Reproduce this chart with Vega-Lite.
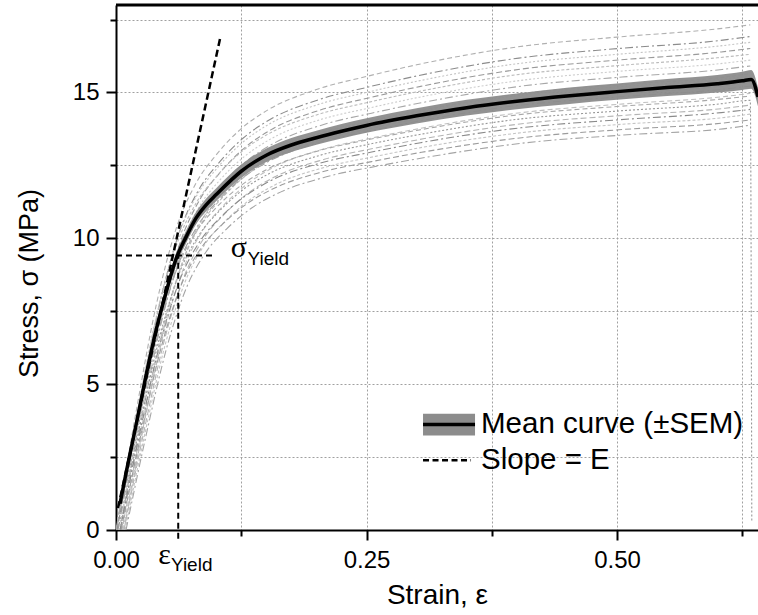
{
  "$schema": "https://vega.github.io/schema/vega-lite/v6.json",
  "width": 642,
  "height": 525,
  "autosize": {"type": "none"},
  "padding": {"left": 116, "top": 5, "right": 0, "bottom": 85},
  "background": "white",
  "config": {
    "view": {"stroke": null},
    "font": "Liberation Sans",
    "text": {"font": "Liberation Sans"}
  },
  "datasets": {
    "curves": [
      {"c":"c1","x":0,"y":0},{"c":"c1","x":0.02,"y":4.04},{"c":"c1","x":0.04,"y":7.69},{"c":"c1","x":0.06,"y":10.33},{"c":"c1","x":0.08,"y":11.9},{"c":"c1","x":0.1,"y":12.86},{"c":"c1","x":0.125,"y":13.76},{"c":"c1","x":0.15,"y":14.37},{"c":"c1","x":0.2,"y":15.1},{"c":"c1","x":0.25,"y":15.55},{"c":"c1","x":0.3,"y":15.95},{"c":"c1","x":0.4,"y":16.56},{"c":"c1","x":0.5,"y":16.9},{"c":"c1","x":0.6,"y":17.18},{"c":"c1","x":0.633,"y":17.32},
      {"c":"c2","x":0.002,"y":0},{"c":"c2","x":0.022,"y":3.95},{"c":"c2","x":0.042,"y":7.51},{"c":"c2","x":0.062,"y":10.09},{"c":"c2","x":0.082,"y":11.63},{"c":"c2","x":0.102,"y":12.56},{"c":"c2","x":0.127,"y":13.44},{"c":"c2","x":0.152,"y":14.04},{"c":"c2","x":0.202,"y":14.75},{"c":"c2","x":0.252,"y":15.19},{"c":"c2","x":0.302,"y":15.58},{"c":"c2","x":0.402,"y":16.18},{"c":"c2","x":0.502,"y":16.51},{"c":"c2","x":0.602,"y":16.78},{"c":"c2","x":0.633,"y":16.92},
      {"c":"c3","x":0.001,"y":0},{"c":"c3","x":0.021,"y":3.9},{"c":"c3","x":0.041,"y":7.43},{"c":"c3","x":0.061,"y":9.97},{"c":"c3","x":0.081,"y":11.49},{"c":"c3","x":0.101,"y":12.41},{"c":"c3","x":0.126,"y":13.28},{"c":"c3","x":0.151,"y":13.88},{"c":"c3","x":0.201,"y":14.58},{"c":"c3","x":0.251,"y":15.01},{"c":"c3","x":0.301,"y":15.39},{"c":"c3","x":0.401,"y":15.99},{"c":"c3","x":0.501,"y":16.31},{"c":"c3","x":0.601,"y":16.59},{"c":"c3","x":0.633,"y":16.72},
      {"c":"c4","x":0.004,"y":0},{"c":"c4","x":0.024,"y":3.86},{"c":"c4","x":0.044,"y":7.34},{"c":"c4","x":0.064,"y":9.85},{"c":"c4","x":0.084,"y":11.35},{"c":"c4","x":0.104,"y":12.26},{"c":"c4","x":0.129,"y":13.12},{"c":"c4","x":0.154,"y":13.71},{"c":"c4","x":0.204,"y":14.4},{"c":"c4","x":0.254,"y":14.83},{"c":"c4","x":0.304,"y":15.21},{"c":"c4","x":0.404,"y":15.8},{"c":"c4","x":0.504,"y":16.12},{"c":"c4","x":0.604,"y":16.39},{"c":"c4","x":0.633,"y":16.51},
      {"c":"c5","x":0,"y":0},{"c":"c5","x":0.02,"y":3.81},{"c":"c5","x":0.04,"y":7.25},{"c":"c5","x":0.06,"y":9.73},{"c":"c5","x":0.08,"y":11.21},{"c":"c5","x":0.1,"y":12.11},{"c":"c5","x":0.125,"y":12.96},{"c":"c5","x":0.15,"y":13.54},{"c":"c5","x":0.2,"y":14.23},{"c":"c5","x":0.25,"y":14.65},{"c":"c5","x":0.3,"y":15.02},{"c":"c5","x":0.4,"y":15.61},{"c":"c5","x":0.5,"y":15.92},{"c":"c5","x":0.6,"y":16.19},{"c":"c5","x":0.633,"y":16.31},
      {"c":"c6","x":0.005,"y":0},{"c":"c6","x":0.025,"y":3.72},{"c":"c6","x":0.045,"y":7.07},{"c":"c6","x":0.065,"y":9.49},{"c":"c6","x":0.085,"y":10.94},{"c":"c6","x":0.105,"y":11.82},{"c":"c6","x":0.13,"y":12.64},{"c":"c6","x":0.155,"y":13.21},{"c":"c6","x":0.205,"y":13.88},{"c":"c6","x":0.255,"y":14.29},{"c":"c6","x":0.305,"y":14.65},{"c":"c6","x":0.405,"y":15.22},{"c":"c6","x":0.505,"y":15.53},{"c":"c6","x":0.605,"y":15.79},{"c":"c6","x":0.633,"y":15.91},
      {"c":"c7","x":0.003,"y":0},{"c":"c7","x":0.023,"y":3.64},{"c":"c7","x":0.043,"y":6.92},{"c":"c7","x":0.063,"y":9.29},{"c":"c7","x":0.083,"y":10.71},{"c":"c7","x":0.103,"y":11.56},{"c":"c7","x":0.128,"y":12.37},{"c":"c7","x":0.153,"y":12.93},{"c":"c7","x":0.203,"y":13.58},{"c":"c7","x":0.253,"y":13.99},{"c":"c7","x":0.303,"y":14.34},{"c":"c7","x":0.403,"y":14.9},{"c":"c7","x":0.503,"y":15.2},{"c":"c7","x":0.603,"y":15.45},{"c":"c7","x":0.633,"y":15.57},
      {"c":"c8","x":0.001,"y":0},{"c":"c8","x":0.021,"y":3.6},{"c":"c8","x":0.041,"y":6.85},{"c":"c8","x":0.061,"y":9.2},{"c":"c8","x":0.081,"y":10.6},{"c":"c8","x":0.101,"y":11.45},{"c":"c8","x":0.126,"y":12.25},{"c":"c8","x":0.151,"y":12.8},{"c":"c8","x":0.201,"y":13.45},{"c":"c8","x":0.251,"y":13.85},{"c":"c8","x":0.301,"y":14.2},{"c":"c8","x":0.401,"y":14.75},{"c":"c8","x":0.501,"y":15.05},{"c":"c8","x":0.601,"y":15.3},{"c":"c8","x":0.633,"y":15.42},
      {"c":"c9","x":0.006,"y":0},{"c":"c9","x":0.026,"y":3.58},{"c":"c9","x":0.046,"y":6.82},{"c":"c9","x":0.066,"y":9.15},{"c":"c9","x":0.086,"y":10.55},{"c":"c9","x":0.106,"y":11.39},{"c":"c9","x":0.131,"y":12.19},{"c":"c9","x":0.156,"y":12.74},{"c":"c9","x":0.206,"y":13.38},{"c":"c9","x":0.256,"y":13.78},{"c":"c9","x":0.306,"y":14.13},{"c":"c9","x":0.406,"y":14.68},{"c":"c9","x":0.506,"y":14.97},{"c":"c9","x":0.606,"y":15.22},{"c":"c9","x":0.633,"y":15.34},
      {"c":"c10","x":0.002,"y":0},{"c":"c10","x":0.022,"y":3.55},{"c":"c10","x":0.042,"y":6.76},{"c":"c10","x":0.062,"y":9.08},{"c":"c10","x":0.082,"y":10.46},{"c":"c10","x":0.102,"y":11.3},{"c":"c10","x":0.127,"y":12.09},{"c":"c10","x":0.152,"y":12.63},{"c":"c10","x":0.202,"y":13.28},{"c":"c10","x":0.252,"y":13.67},{"c":"c10","x":0.302,"y":14.02},{"c":"c10","x":0.402,"y":14.56},{"c":"c10","x":0.502,"y":14.85},{"c":"c10","x":0.602,"y":15.1},{"c":"c10","x":0.633,"y":15.22},
      {"c":"c11","x":0.007,"y":0},{"c":"c11","x":0.027,"y":3.5},{"c":"c11","x":0.047,"y":6.65},{"c":"c11","x":0.067,"y":8.93},{"c":"c11","x":0.087,"y":10.29},{"c":"c11","x":0.107,"y":11.12},{"c":"c11","x":0.132,"y":11.89},{"c":"c11","x":0.157,"y":12.43},{"c":"c11","x":0.207,"y":13.06},{"c":"c11","x":0.257,"y":13.45},{"c":"c11","x":0.307,"y":13.79},{"c":"c11","x":0.407,"y":14.32},{"c":"c11","x":0.507,"y":14.61},{"c":"c11","x":0.607,"y":14.86},{"c":"c11","x":0.633,"y":14.97},
      {"c":"c12","x":0.003,"y":0},{"c":"c12","x":0.023,"y":3.44},{"c":"c12","x":0.043,"y":6.54},{"c":"c12","x":0.063,"y":8.79},{"c":"c12","x":0.083,"y":10.12},{"c":"c12","x":0.103,"y":10.93},{"c":"c12","x":0.128,"y":11.7},{"c":"c12","x":0.153,"y":12.22},{"c":"c12","x":0.203,"y":12.84},{"c":"c12","x":0.253,"y":13.23},{"c":"c12","x":0.303,"y":13.56},{"c":"c12","x":0.403,"y":14.09},{"c":"c12","x":0.503,"y":14.37},{"c":"c12","x":0.603,"y":14.61},{"c":"c12","x":0.633,"y":14.73},{"c":"c12","x":0.6345,"y":0.3},
      {"c":"c13","x":0.008,"y":0},{"c":"c13","x":0.028,"y":3.4},{"c":"c13","x":0.048,"y":6.47},{"c":"c13","x":0.068,"y":8.69},{"c":"c13","x":0.088,"y":10.02},{"c":"c13","x":0.108,"y":10.82},{"c":"c13","x":0.133,"y":11.58},{"c":"c13","x":0.158,"y":12.1},{"c":"c13","x":0.208,"y":12.71},{"c":"c13","x":0.258,"y":13.09},{"c":"c13","x":0.308,"y":13.42},{"c":"c13","x":0.408,"y":13.94},{"c":"c13","x":0.508,"y":14.22},{"c":"c13","x":0.608,"y":14.46},{"c":"c13","x":0.633,"y":14.57},
      {"c":"c14","x":0.004,"y":0},{"c":"c14","x":0.024,"y":3.37},{"c":"c14","x":0.044,"y":6.4},{"c":"c14","x":0.064,"y":8.6},{"c":"c14","x":0.084,"y":9.91},{"c":"c14","x":0.104,"y":10.71},{"c":"c14","x":0.129,"y":11.45},{"c":"c14","x":0.154,"y":11.97},{"c":"c14","x":0.204,"y":12.58},{"c":"c14","x":0.254,"y":12.95},{"c":"c14","x":0.304,"y":13.28},{"c":"c14","x":0.404,"y":13.79},{"c":"c14","x":0.504,"y":14.07},{"c":"c14","x":0.604,"y":14.31},{"c":"c14","x":0.633,"y":14.42},
      {"c":"c15","x":0.009,"y":0},{"c":"c15","x":0.029,"y":3.33},{"c":"c15","x":0.049,"y":6.34},{"c":"c15","x":0.069,"y":8.51},{"c":"c15","x":0.089,"y":9.81},{"c":"c15","x":0.109,"y":10.59},{"c":"c15","x":0.134,"y":11.33},{"c":"c15","x":0.159,"y":11.84},{"c":"c15","x":0.209,"y":12.44},{"c":"c15","x":0.259,"y":12.81},{"c":"c15","x":0.309,"y":13.14},{"c":"c15","x":0.409,"y":13.64},{"c":"c15","x":0.509,"y":13.92},{"c":"c15","x":0.609,"y":14.15},{"c":"c15","x":0.633,"y":14.26},
      {"c":"c16","x":0.005,"y":0},{"c":"c16","x":0.025,"y":3.28},{"c":"c16","x":0.045,"y":6.25},{"c":"c16","x":0.065,"y":8.39},{"c":"c16","x":0.085,"y":9.67},{"c":"c16","x":0.105,"y":10.44},{"c":"c16","x":0.13,"y":11.17},{"c":"c16","x":0.155,"y":11.67},{"c":"c16","x":0.205,"y":12.27},{"c":"c16","x":0.255,"y":12.63},{"c":"c16","x":0.305,"y":12.95},{"c":"c16","x":0.405,"y":13.45},{"c":"c16","x":0.505,"y":13.73},{"c":"c16","x":0.605,"y":13.95},{"c":"c16","x":0.633,"y":14.06},
      {"c":"c17","x":0.01,"y":0},{"c":"c17","x":0.03,"y":3.24},{"c":"c17","x":0.05,"y":6.17},{"c":"c17","x":0.07,"y":8.28},{"c":"c17","x":0.09,"y":9.54},{"c":"c17","x":0.11,"y":10.31},{"c":"c17","x":0.135,"y":11.03},{"c":"c17","x":0.16,"y":11.52},{"c":"c17","x":0.21,"y":12.11},{"c":"c17","x":0.26,"y":12.47},{"c":"c17","x":0.31,"y":12.78},{"c":"c17","x":0.41,"y":13.28},{"c":"c17","x":0.51,"y":13.55},{"c":"c17","x":0.61,"y":13.77},{"c":"c17","x":0.633,"y":13.88},
      {"c":"c18","x":0.003,"y":0},{"c":"c18","x":0.023,"y":3.76},{"c":"c18","x":0.043,"y":7.16},{"c":"c18","x":0.063,"y":9.61},{"c":"c18","x":0.083,"y":11.08},{"c":"c18","x":0.103,"y":11.97},{"c":"c18","x":0.128,"y":12.8},{"c":"c18","x":0.153,"y":13.38},{"c":"c18","x":0.203,"y":14.06},{"c":"c18","x":0.253,"y":14.47},{"c":"c18","x":0.303,"y":14.84},{"c":"c18","x":0.403,"y":15.41},{"c":"c18","x":0.503,"y":15.73},{"c":"c18","x":0.603,"y":15.99},{"c":"c18","x":0.633,"y":16.11},
      {"c":"c19","x":0,"y":0},{"c":"c19","x":0.02,"y":3.47},{"c":"c19","x":0.04,"y":6.61},{"c":"c19","x":0.06,"y":8.88},{"c":"c19","x":0.08,"y":10.23},{"c":"c19","x":0.1,"y":11.05},{"c":"c19","x":0.125,"y":11.82},{"c":"c19","x":0.15,"y":12.35},{"c":"c19","x":0.2,"y":12.98},{"c":"c19","x":0.25,"y":13.37},{"c":"c19","x":0.3,"y":13.7},{"c":"c19","x":0.4,"y":14.23},{"c":"c19","x":0.5,"y":14.52},{"c":"c19","x":0.6,"y":14.76},{"c":"c19","x":0.633,"y":14.88},
      {"c":"c20","x":0.008,"y":0},{"c":"c20","x":0.028,"y":3.65},{"c":"c20","x":0.048,"y":6.95},{"c":"c20","x":0.068,"y":9.34},{"c":"c20","x":0.088,"y":10.76},{"c":"c20","x":0.108,"y":11.62},{"c":"c20","x":0.133,"y":12.43},{"c":"c20","x":0.158,"y":12.99},{"c":"c20","x":0.208,"y":13.65},{"c":"c20","x":0.258,"y":14.06},{"c":"c20","x":0.308,"y":14.41},{"c":"c20","x":0.408,"y":14.97},{"c":"c20","x":0.508,"y":15.28},{"c":"c20","x":0.608,"y":15.53},{"c":"c20","x":0.633,"y":15.65}
    ],
    "mean": [
      {"x":0.004,"y":0.9},{"x":0.01,"y":1.95},{"x":0.02,"y":3.6},{"x":0.03,"y":5.3},{"x":0.04,"y":6.85},{"x":0.05,"y":8.15},{"x":0.06,"y":9.3},{"x":0.07,"y":10.05},{"x":0.08,"y":10.7},{"x":0.09,"y":11.15},{"x":0.1,"y":11.5},{"x":0.125,"y":12.3},{"x":0.15,"y":12.85},{"x":0.175,"y":13.2},{"x":0.2,"y":13.45},{"x":0.225,"y":13.67},{"x":0.25,"y":13.87},{"x":0.3,"y":14.2},{"x":0.35,"y":14.48},{"x":0.4,"y":14.7},{"x":0.45,"y":14.88},{"x":0.5,"y":15.03},{"x":0.55,"y":15.17},{"x":0.6,"y":15.3},{"x":0.625,"y":15.4},{"x":0.634,"y":15.45},{"x":0.6407,"y":14.85}
    ],
    "band": [
      {"x":0.004,"y":0.75,"y2":1.05},{"x":0.01,"y":1.8,"y2":2.1},{"x":0.02,"y":3.43,"y2":3.77},{"x":0.03,"y":5.12,"y2":5.48},{"x":0.04,"y":6.66,"y2":7.04},{"x":0.05,"y":7.95,"y2":8.35},{"x":0.06,"y":9.1,"y2":9.5},{"x":0.07,"y":9.84,"y2":10.26},{"x":0.08,"y":10.49,"y2":10.91},{"x":0.09,"y":10.93,"y2":11.37},{"x":0.1,"y":11.28,"y2":11.72},{"x":0.125,"y":12.07,"y2":12.53},{"x":0.15,"y":12.62,"y2":13.08},{"x":0.175,"y":12.96,"y2":13.44},{"x":0.2,"y":13.21,"y2":13.69},{"x":0.225,"y":13.42,"y2":13.92},{"x":0.25,"y":13.62,"y2":14.12},{"x":0.3,"y":13.94,"y2":14.46},{"x":0.35,"y":14.21,"y2":14.75},{"x":0.4,"y":14.43,"y2":14.97},{"x":0.45,"y":14.6,"y2":15.16},{"x":0.5,"y":14.75,"y2":15.31},{"x":0.55,"y":14.88,"y2":15.46},{"x":0.6,"y":15.0,"y2":15.6},{"x":0.625,"y":15.09,"y2":15.71},{"x":0.634,"y":15.13,"y2":15.77},{"x":0.6407,"y":14.53,"y2":15.17}
    ],
    "slope": [{"x":0.002,"y":0.75},{"x":0.1045,"y":16.95}],
    "yieldH": [{"x":0,"y":9.41},{"x":0.0958,"y":9.41}],
    "yieldV": [{"x":0.0621,"y":-0.3,"y2":9.41}],
    "frame": [{"x":0,"x2":0.6407,"y":18}],
    "bigSym": [{"x":0.1145,"y":9.36,"t":"σ"},{"x":0.0421,"y":-1.15,"t":"ε"}],
    "subSym": [{"x":0.1313,"y":9.1,"t":"Yield"},{"x":0.0548,"y":-1.42,"t":"Yield"}],
    "legBand": [{"x":0.3064,"x2":0.3583,"y":3.24,"y2":3.99}],
    "legMean": [{"x":0.3064,"x2":0.3583,"y":3.62}],
    "legSlope": [{"x":0.3064,"x2":0.3543,"y":2.39}],
    "legText": [{"x":0.3643,"y":3.62,"t":"Mean curve (±SEM)"},{"x":0.3643,"y":2.39,"t":"Slope = E"}]
  },
  "encoding": {
    "x": {
      "field": "x", "type": "quantitative",
      "scale": {"domain": [0, 0.6407], "nice": false, "zero": false},
      "axis": {
        "title": "Strain, ε",
        "values": [0, 0.125, 0.25, 0.375, 0.5, 0.625],
        "labelExpr": "datum.value % 0.25 == 0 ? format(datum.value, '.2f') : ''",
        "tickSize": {"condition": {"test": "datum.value % 0.25 == 0", "value": 10}, "value": 6},
        "tickWidth": 2, "tickColor": "black",
        "domainColor": "black", "domainWidth": 2,
        "grid": true, "gridDash": [2, 2], "gridColor": "#a0a0a0", "gridWidth": 1,
        "labelFont": "Liberation Sans", "labelFontSize": 24, "labelColor": "black", "labelPadding": 8,
        "labelFlush": false, "labelOverlap": false,
        "titleFont": "Liberation Sans", "titleFontSize": 28, "titleFontWeight": "normal", "titleColor": "black",
        "titleY": 73, "titleBaseline": "alphabetic"
      }
    },
    "y": {
      "field": "y", "type": "quantitative",
      "scale": {"domain": [0, 18], "nice": false},
      "axis": {
        "title": "Stress, σ  (MPa)",
        "values": [0, 2.5, 5, 7.5, 10, 12.5, 15, 17.5],
        "labelExpr": "datum.value % 5 == 0 ? format(datum.value, 'd') : ''",
        "tickSize": {"condition": {"test": "datum.value % 5 == 0", "value": 10}, "value": 6},
        "tickWidth": 2, "tickColor": "black",
        "domainColor": "black", "domainWidth": 2,
        "grid": true, "gridDash": [2, 2], "gridColor": "#a0a0a0", "gridWidth": 1,
        "labelFont": "Liberation Sans", "labelFontSize": 24, "labelColor": "black", "labelPadding": 7,
        "labelFlush": false, "labelOverlap": false,
        "titleFont": "Liberation Sans", "titleFontSize": 27, "titleFontWeight": "normal", "titleColor": "black",
        "titleX": -79, "titleY": 278, "titleAngle": -90, "titleAlign": "center", "titleBaseline": "alphabetic"
      }
    }
  },
  "layer": [
    {
      "data": {"name": "curves"},
      "mark": {"type": "line", "strokeWidth": 1.1, "interpolate": "monotone", "clip": true},
      "encoding": {
        "color": {"field": "c", "type": "nominal", "legend": null,
          "scale": {"domain": ["c1","c2","c3","c4","c5","c6","c7","c8","c9","c10","c11","c12","c13","c14","c15","c16","c17","c18","c19","c20"],
            "range": ["#b0b0b0","#8c8c8c","#c4c4c4","#9a9a9a","#bcbcbc","#a8a8a8","#c8c8c8","#909090","#b8b8b8","#a0a0a0","#c0c0c0","#989898","#b4b4b4","#8a8a8a","#c4c4c4","#9c9c9c","#a4a4a4","#cccccc","#a8a8a8","#b8b8b8"]}},
        "strokeDash": {"field": "c", "type": "nominal", "legend": null,
          "scale": {"domain": ["c1","c2","c3","c4","c5","c6","c7","c8","c9","c10","c11","c12","c13","c14","c15","c16","c17","c18","c19","c20"],
            "range": [[5,3],[8,3,2,3],[2,2],[6,3],[3,2],[8,3,2,3],[2,2],[6,3],[4,2],[8,3,2,3],[5,3],[2,2],[6,3],[8,3,2,3],[3,2],[6,3],[8,3,2,3],[2,2],[5,3],[4,2]]}}
      }
    },
    {
      "data": {"name": "band"},
      "mark": {"type": "area", "color": "#8c8c8c", "opacity": 0.95, "interpolate": "monotone", "clip": true},
      "encoding": {"y2": {"field": "y2"}}
    },
    {
      "data": {"name": "mean"},
      "mark": {"type": "line", "color": "black", "strokeWidth": 3.5, "interpolate": "monotone", "clip": true},
      "encoding": {}
    },
    {
      "data": {"name": "slope"},
      "mark": {"type": "line", "color": "black", "strokeWidth": 2.5, "strokeDash": [7, 4]},
      "encoding": {}
    },
    {
      "data": {"name": "yieldH"},
      "mark": {"type": "line", "color": "black", "strokeWidth": 2, "strokeDash": [6, 4]},
      "encoding": {}
    },
    {
      "data": {"name": "yieldV"},
      "mark": {"type": "rule", "color": "black", "strokeWidth": 2, "strokeDash": [6, 4]},
      "encoding": {"y2": {"field": "y2"}}
    },
    {
      "data": {"name": "frame"},
      "mark": {"type": "rule", "color": "black", "strokeWidth": 3},
      "encoding": {"x2": {"field": "x2"}}
    },
    {
      "data": {"name": "bigSym"},
      "mark": {"type": "text", "font": "Liberation Serif", "fontSize": 30, "align": "left", "baseline": "alphabetic", "color": "black"},
      "encoding": {"text": {"field": "t"}}
    },
    {
      "data": {"name": "subSym"},
      "mark": {"type": "text", "font": "Liberation Sans", "fontSize": 19, "align": "left", "baseline": "alphabetic", "color": "black"},
      "encoding": {"text": {"field": "t"}}
    },
    {
      "data": {"name": "legBand"},
      "mark": {"type": "rect", "color": "#8c8c8c"},
      "encoding": {"x2": {"field": "x2"}, "y2": {"field": "y2"}}
    },
    {
      "data": {"name": "legMean"},
      "mark": {"type": "rule", "color": "black", "strokeWidth": 3.5},
      "encoding": {"x2": {"field": "x2"}}
    },
    {
      "data": {"name": "legSlope"},
      "mark": {"type": "rule", "color": "black", "strokeWidth": 2.5, "strokeDash": [6, 3.5]},
      "encoding": {"x2": {"field": "x2"}}
    },
    {
      "data": {"name": "legText"},
      "mark": {"type": "text", "font": "Liberation Sans", "fontSize": 29.5, "align": "left", "baseline": "middle", "color": "black"},
      "encoding": {"text": {"field": "t"}}
    }
  ]
}
